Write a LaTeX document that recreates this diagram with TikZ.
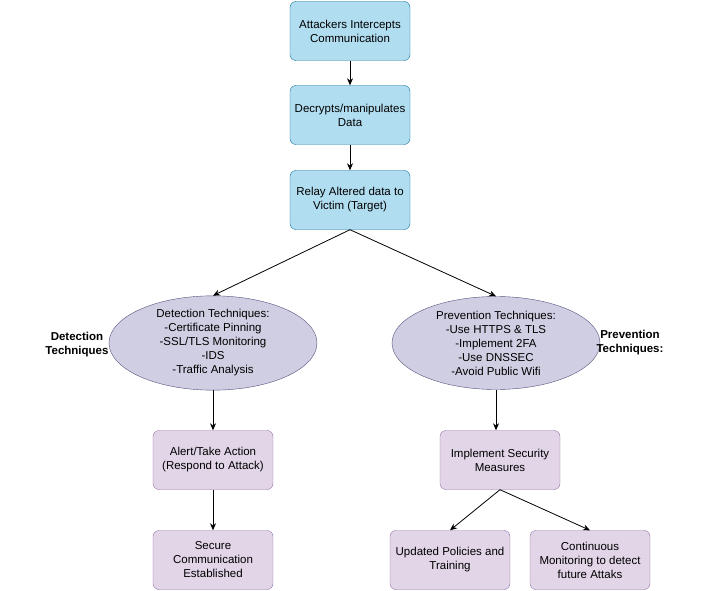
\documentclass[tikz,border=0pt]{standalone}
\usepackage{fontspec}
\setmainfont{Liberation Sans}
\usetikzlibrary{shapes.geometric,arrows.meta}
\definecolor{blueFill}{HTML}{B1DDF0}
\definecolor{blueLine}{HTML}{10739E}
\definecolor{ellFill}{HTML}{D0CEE2}
\definecolor{ellLine}{HTML}{56517E}
\definecolor{purFill}{HTML}{E1D5E7}
\definecolor{purLine}{HTML}{9673A6}
\tikzset{
    stage/.style={draw=blueLine, fill=blueFill, rounded corners=6pt, minimum width=120pt,
        minimum height=59pt, align=center, font=\fontsize{11.5}{14}\selectfont},
    task/.style={stage, draw=purLine, fill=purFill},
    tech/.style={ellipse, draw=ellLine, fill=ellFill, minimum width=208pt, minimum height=93pt,
        inner sep=0pt, align=center, font=\fontsize{11.5}{14}\selectfont},
    side/.style={align=center, font=\bfseries\fontsize{11.5}{14}\selectfont},
    flow/.style={-{Stealth[length=7pt,width=6pt]}, thick}
}
\begin{document}
\begin{tikzpicture}[x=1pt, y=-1pt]
        \useasboundingbox (0,0) rectangle (710,591);

        % Attack chain
        \node[stage] (intercept) at (350,31) {Attackers Intercepts\\Communication};
        \node[stage] (decrypt) at (350,115) {Decrypts/manipulates\\Data};
        \node[stage] (relay) at (350,200) {Relay Altered data to\\Victim (Target)};

        % Techniques
        \node[tech] (detect) at (213,343) {Detection Techniques:\\-Certificate Pinning\\-SSL/TLS Monitoring\\-IDS\\-Traffic Analysis};
        \node[tech] (prevent) at (496,343) {Prevention Techniques:\\-Use HTTPS \& TLS\\-Implement 2FA\\-Use DNSSEC\\-Avoid Public Wifi};
        \node[side] (detectLbl) at (77,345) {Detection\\Techniques};
        \node[side] (preventLbl) at (630,343) {Prevention\\Techniques:};

        % Responses
        \node[task] (alert) at (213,460) {Alert/Take Action\\(Respond to Attack)};
        \node[task] (secure) at (213,560) {Secure\\Communication\\Established};
        \node[task] (measures) at (500,460) {Implement Security\\Measures};
        \node[task] (policies) at (450,560) {Updated Policies and\\Training};
        \node[task] (monitor) at (590,560) {Continuous\\Monitoring to detect\\future Attaks};

        \draw[flow] (intercept) -- (decrypt);
        \draw[flow] (decrypt) -- (relay);
        \draw[flow] (relay.south) -- (detect.north);
        \draw[flow] (relay.south) -- (prevent.north);
        \draw[flow] (detect) -- (alert);
        \draw[flow] (alert) -- (secure);
        \draw[flow] (prevent.south) -- (measures.north -| prevent.south);
        \draw[flow] (measures.south) -- (policies.north);
        \draw[flow] (measures.south) -- (monitor.north);

    \end{tikzpicture}
\end{document}
